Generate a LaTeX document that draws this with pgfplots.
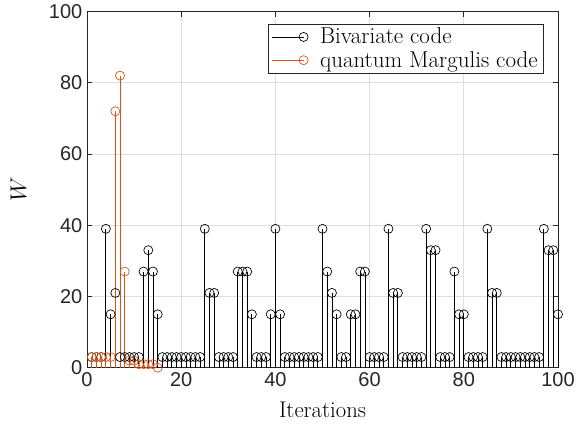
\documentclass[border=0pt]{standalone}
\usepackage{fontspec}
\usepackage{pgfplots}
\pgfplotsset{compat=1.18}
\newfontfamily\hv{Liberation Sans}
\definecolor{morange}{RGB}{217,83,25}
\definecolor{axgray}{RGB}{38,38,38}
\definecolor{grd}{RGB}{223,223,223}
\begin{document}
\begin{tikzpicture}[x=1pt,y=1pt]
\begin{axis}[
  scale only axis,
  width=353pt, height=267pt,
  xmin=0, xmax=100, ymin=0, ymax=100,
  xtick={0,20,...,100}, ytick={0,20,...,100},
  grid=major,
  major grid style={grd, line width=0.5pt},
  axis line style={axgray, line width=0.6pt},
  tick style={axgray, line width=0.6pt},
  tick align=inside,
  major tick length=4pt,
  xtick pos=both, ytick pos=both,
  clip=false,
  /pgf/number format/assume math mode=true,
  tick label style={font=\hv\fontsize{15}{18}\selectfont, text=axgray},
  label style={font=\fontsize{17}{20}\selectfont},
  xlabel={Iterations},
  ylabel={$W$},
  xlabel style={yshift=-5pt},
  ylabel style={yshift=10pt},
  legend style={at={(rel axis cs:0.969,0.966)}, anchor=north east,
    font=\fontsize{17.2}{20}\selectfont, draw=axgray, line width=0.5pt,
    inner xsep=2pt, inner ysep=1pt, row sep=0pt, cells={anchor=west, inner xsep=3pt}},
  legend image code/.code={\draw[#1, sharp plot, mark repeat=2, mark phase=2] plot coordinates {(0cm,0cm) (0.84cm,0cm)};},
]
\addplot[ycomb, black, line width=0.6pt, mark=o, mark size=3.4pt, mark options={solid, line width=0.5pt}] coordinates {
(1,3)(2,3)(3,3)(4,39)(5,15)(6,21)(7,3)(8,3)(9,3)(10,3)
(11,3)(12,27)(13,33)(14,27)(15,15)(16,3)(17,3)(18,3)(19,3)(20,3)
(21,3)(22,3)(23,3)(24,3)(25,39)(26,21)(27,21)(28,3)(29,3)(30,3)
(31,3)(32,27)(33,27)(34,27)(35,15)(36,3)(37,3)(38,3)(39,15)(40,39)
(41,15)(42,3)(43,3)(44,3)(45,3)(46,3)(47,3)(48,3)(49,3)(50,39)
(51,27)(52,21)(53,15)(54,3)(55,3)(56,15)(57,15)(58,27)(59,27)(60,3)
(61,3)(62,3)(63,3)(64,39)(65,21)(66,21)(67,3)(68,3)(69,3)(70,3)
(71,3)(72,39)(73,33)(74,33)(75,3)(76,3)(77,3)(78,27)(79,15)(80,15)
(81,3)(82,3)(83,3)(84,3)(85,39)(86,21)(87,21)(88,3)(89,3)(90,3)
(91,3)(92,3)(93,3)(94,3)(95,3)(96,3)(97,39)(98,33)(99,33)(100,15)
};
\addlegendentry{\hspace{7pt}Bivariate code}
\addplot[ycomb, morange, line width=0.6pt, mark=o, mark size=3.4pt, mark options={solid, line width=0.5pt}] coordinates {
(1,3)(2,3)(3,3)(4,3)(5,3)(6,72)(7,82)(8,27)(9,2)(10,2)
(11,1)(12,1)(13,1)(14,1)(15,0)
};
\addlegendentry{\hspace{7pt}quantum Margulis code}
\path (rel axis cs:0,0) ++(-65.25pt,-44.25pt) coordinate (bbsw);
\path (rel axis cs:1,1) ++(16.5pt,7.5pt) coordinate (bbne);
\end{axis}
\path[use as bounding box] (bbsw) rectangle (bbne);
\end{tikzpicture}
\end{document}
